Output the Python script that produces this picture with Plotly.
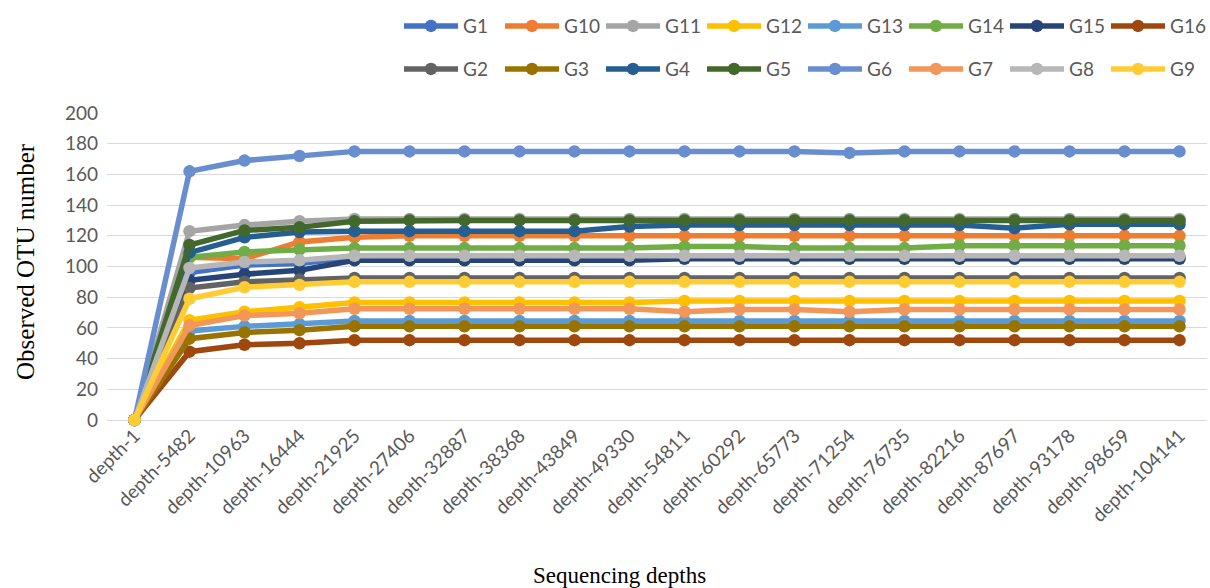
import plotly.graph_objects as go

categories = ["depth-1", "depth-5482", "depth-10963", "depth-16444", "depth-21925",
              "depth-27406", "depth-32887", "depth-38368", "depth-43849", "depth-49330",
              "depth-54811", "depth-60292", "depth-65773", "depth-71254", "depth-76735",
              "depth-82216", "depth-87697", "depth-93178", "depth-98659", "depth-104141"]

G1 = [0, 96, 101, 102, 106, 106, 106, 106, 106, 106, 106, 106, 106, 106, 106, 106, 106, 106, 106, 106]
G10 = [0, 106, 105, 116, 119, 120, 120, 120, 120, 120, 120, 120, 120, 120, 120, 120, 120, 120, 120, 120]
G11 = [0, 123, 127, 129.5, 131, 131, 131, 131, 131, 131, 131, 131, 131, 131, 131, 131, 131, 131, 131, 131]
G12 = [0, 65, 70.5, 73.5, 76.5, 76.5, 76.5, 76.5, 76.5, 76.5, 77.5, 77.5, 77.5, 77.5, 77.5, 77.5, 77.5, 77.5, 77.5, 77.5]
G13 = [0, 58, 61, 62.5, 64.5, 64.5, 64.5, 64.5, 64.5, 64.5, 64.5, 64.5, 64.5, 64.5, 64.5, 64.5, 64.5, 64.5, 64.5, 64.5]
G14 = [0, 106, 109.5, 111, 112, 112, 112, 112, 112, 112, 113, 113, 112, 112, 112, 113.5, 113.5, 113.5, 113.5, 113.5]
G15 = [0, 91, 95, 97.5, 104, 104, 104, 104, 104, 104, 105, 105, 105, 105, 105, 105, 105, 105, 105, 105]
G16 = [0, 44.5, 49, 50, 52, 52, 52, 52, 52, 52, 52, 52, 52, 52, 52, 52, 52, 52, 52, 52]
G2 = [0, 86, 90, 91.5, 92.5, 92.5, 92.5, 92.5, 92.5, 92.5, 92.5, 92.5, 92.5, 92.5, 92.5, 92.5, 92.5, 92.5, 92.5, 92.5]
G3 = [0, 53, 57, 58.5, 61, 61, 61, 61, 61, 61, 61, 61, 61, 61, 61, 61, 61, 61, 61, 61]
G4 = [0, 109, 119, 122.5, 123, 123, 123, 123, 123, 126, 127, 127, 127, 127, 127, 127, 125, 127.5, 127.5, 127.5]
G5 = [0, 114, 123.5, 125.5, 129.5, 130, 130, 130, 130, 130, 130, 130, 130, 130, 130, 130, 130, 130, 130, 130]
G6 = [0, 162, 169, 172, 175, 175, 175, 175, 175, 175, 175, 175, 175, 174, 175, 175, 175, 175, 175, 175]
G7 = [0, 61.5, 68, 69.5, 72.5, 72.5, 72.5, 72.5, 72.5, 72.5, 70.5, 72, 72, 70.5, 72, 72, 72, 72, 72, 72]
G8 = [0, 99, 103, 104, 107, 107, 107, 107, 107, 107, 107, 107, 107, 107, 107, 107, 107, 107, 107, 107]
G9 = [0, 79, 86.5, 88, 90, 90, 90, 90, 90, 90, 90, 90, 90, 90, 90, 90, 90, 90, 90, 90]

series_names = ["G1", "G10", "G11", "G12", "G13", "G14", "G15", "G16",
                "G2", "G3", "G4", "G5", "G6", "G7", "G8", "G9"]
series_values = [G1, G10, G11, G12, G13, G14, G15, G16,
                 G2, G3, G4, G5, G6, G7, G8, G9]
colors = ["#4472C4", "#ED7D31", "#A5A5A5", "#FFC000", "#5B9BD5", "#70AD47", "#264478", "#9E480E",
          "#636363", "#997300", "#255E91", "#43682B", "#698ED0", "#F1975A", "#B7B7B7", "#FFCD33"]

fig = go.Figure()
for i, (name, vals, col) in enumerate(zip(series_names, series_values, colors)):
    fig.add_trace(go.Scatter(
        x=categories, y=vals, name=name, mode="lines+markers",
        line=dict(color=col, width=5.5),
        marker=dict(color=col, size=12.5, line=dict(width=0)),
        cliponaxis=False,
        legend="legend" if i < 8 else "legend2",
    ))

W, H = 1210, 588
ml, mr, mt, mb = 107, 3, 113, 168

legend_common = dict(orientation="h", xanchor="right", yanchor="top",
                      font=dict(family="Lato", size=19, color="#595959"),
                      itemwidth=54, entrywidth=32, entrywidthmode="pixels",
                      bgcolor="rgba(0,0,0,0)", tracegroupgap=0, itemclick=False)

fig.update_layout(
    width=W, height=H,
    margin=dict(l=ml, r=mr, t=mt, b=mb),
    plot_bgcolor="white", paper_bgcolor="white",
    showlegend=True,
    legend=dict(x=1.0, y=1.345, **legend_common),
    legend2=dict(x=1.0, y=1.205, **legend_common),
    xaxis=dict(
        type="category", range=[-0.5, 19.5], tickangle=-45,
        tickfont=dict(family="Lato", size=19, color="#595959"),
        showgrid=False, showline=False, zeroline=False, ticks="",
    ),
    yaxis=dict(
        range=[0, 200], tickvals=list(range(0, 201, 20)),
        tickfont=dict(family="Lato", size=19, color="#595959"),
        showgrid=True, gridcolor="#D9D9D9", gridwidth=1.3,
        zeroline=True, zerolinecolor="#D9D9D9", zerolinewidth=1.3,
        showline=False, ticks="", ticklabelstandoff=8,
    ),
    annotations=[
        dict(text="Observed OTU number", xref="paper", yref="paper",
             x=(25 - ml) / (W - ml - mr), y=(H - mb - 262) / (H - mb - mt),
             xanchor="center", yanchor="middle",
             textangle=-90, showarrow=False,
             font=dict(family="Liberation Serif", size=25, color="black")),
        dict(text="Sequencing depths", xref="paper", yref="paper",
             x=(619 - ml) / (W - ml - mr), y=(H - mb - 575) / (H - mb - mt),
             xanchor="center", yanchor="middle",
             showarrow=False,
             font=dict(family="Liberation Serif", size=23, color="black")),
    ],
)

fig.write_html("out.html")
